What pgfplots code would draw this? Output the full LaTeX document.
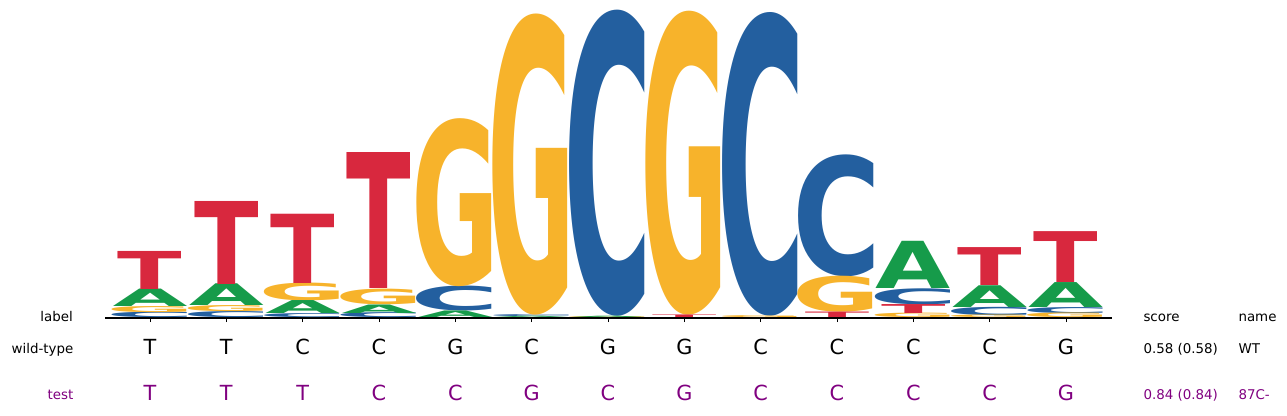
\documentclass[border=0pt]{standalone}
\usepackage{pgfplots}
\pgfplotsset{compat=1.18}
\usepackage{pgfplotstable}
\usepackage{graphicx}
\usepackage{fontspec}
\setmainfont{DejaVu Sans}
\definecolor{cA}{RGB}{22,155,74}
\definecolor{cC}{RGB}{35,95,159}
\definecolor{cG}{RGB}{247,179,43}
\definecolor{cT}{RGB}{216,40,62}
\definecolor{cP}{RGB}{128,0,128}

% x = position, y = base of the letter (bits), h = height (bits)
\pgfplotstableread{
x y h
0 0.072 0.109
1 0.076 0.136
2 0.025 0.081
3 0.031 0.053
4 0.000 0.041
5 0.000 0.008
6 0.006 0.008
10 0.184 0.295
11 0.068 0.136
12 0.067 0.156
}\tabA
\pgfplotstableread{
x y h
0 0.000 0.034
1 0.000 0.038
2 0.000 0.025
3 0.000 0.031
4 0.041 0.156
5 0.008 0.012
6 0.014 1.913
8 0.012 1.898
9 0.259 0.762
10 0.084 0.100
11 0.016 0.052
12 0.029 0.038
}\tabC
\pgfplotstableread{
x y h
0 0.034 0.038
1 0.038 0.038
2 0.106 0.111
3 0.084 0.098
4 0.197 1.050
5 0.020 1.882
6 0.000 0.006
7 0.016 1.900
8 0.000 0.012
9 0.034 0.225
10 0.000 0.028
11 0.000 0.016
12 0.000 0.029
}\tabG
\pgfplotstableread{
x y h
0 0.181 0.238
1 0.212 0.519
2 0.217 0.433
3 0.182 0.849
7 0.000 0.016
9 0.000 0.034
10 0.028 0.056
11 0.204 0.237
12 0.223 0.318
}\tabT

\pgfplotsset{
  logo/.style n args={3}{
    only marks, mark=none,
    visualization depends on={\thisrow{h}*160 \as \hh},
    nodes near coords={\resizebox*{#2}{\hh pt}{\bfseries #1}},
    every node near coord/.append style={anchor=south, inner sep=0pt, outer sep=0pt, text=#3},
  },
}

\begin{document}
\begin{tikzpicture}
\useasboundingbox (0,0) rectangle (1287pt,415pt);
\begin{axis}[
  at={(105pt,97pt)}, anchor=south west,
  x=76.33pt, y=160pt,
  xmin=-0.59, xmax=12.6, ymin=0, ymax=2,
  clip=false,
  axis x line=bottom, axis y line=none,
  x axis line style={-, line width=1.2pt, black},
  xtick={0,...,12}, xticklabels={},
  tick align=outside, major tick length=4pt,
  xtick style={line width=1pt, black},
  ytick=\empty,
]
\addplot[logo={C}{89pt}{cC}] table[x=x, y=y] {\tabC};
\addplot[logo={G}{88pt}{cG}] table[x=x, y=y] {\tabG};
\addplot[logo={A}{75pt}{cA}] table[x=x, y=y] {\tabA};
\addplot[logo={T}{64.5pt}{cT}] table[x=x, y=y] {\tabT};
\end{axis}

\fontsize{13.4}{16}\selectfont
\node[anchor=base east, inner sep=0pt] at (73pt,93.3pt) {label};
\node[anchor=base east, inner sep=0pt] at (73.5pt,61.7pt) {wild-type};
\node[anchor=base east, inner sep=0pt, text=cP] at (73.5pt,15.7pt) {test};
\node[anchor=base west, inner sep=0pt] at (1143.3pt,93.3pt) {score};
\node[anchor=base west, inner sep=0pt] at (1238.3pt,93.3pt) {name};
\node[anchor=base west, inner sep=0pt] at (1143.3pt,61.7pt) {0.58 (0.58)};
\node[anchor=base west, inner sep=0pt] at (1238.3pt,61.7pt) {WT};
\node[anchor=base west, inner sep=0pt, text=cP] at (1143.3pt,15.4pt) {0.84 (0.84)};
\node[anchor=base west, inner sep=0pt, text=cP] at (1238.3pt,15.4pt) {87C-};

\fontsize{20.8}{24}\selectfont
\foreach \c [count=\i from 0] in {T,T,C,C,G,C,G,G,C,C,C,C,G}
  \node[anchor=base, inner sep=0pt] at ({150pt+76.33pt*\i},60pt) {\c};
\foreach \c [count=\i from 0] in {T,T,T,C,C,G,C,G,C,C,C,C,G}
  \node[anchor=base, inner sep=0pt, text=cP] at ({150pt+76.33pt*\i},14.3pt) {\c};
\end{tikzpicture}
\end{document}
